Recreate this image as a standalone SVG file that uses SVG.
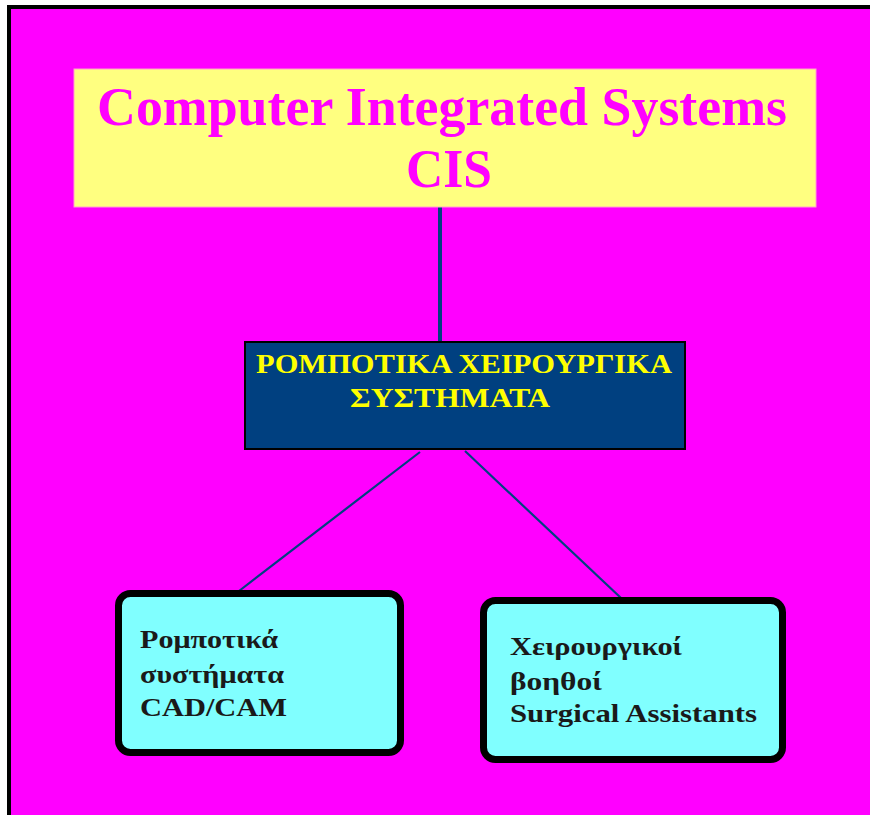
<svg xmlns="http://www.w3.org/2000/svg" width="870" height="815" viewBox="0 0 870 815">
  <style>
    .frame { fill: #ff00ff; stroke: #000000; stroke-width: 4; }
    .title-box { fill: #ffff80; stroke: #ff9fd0; stroke-width: 1; }
    .title { font-family: "Liberation Serif", "Times New Roman", serif; font-weight: bold; fill: #ff00ff; }
    .hub-box { fill: #004080; stroke: #000000; stroke-width: 2; }
    .hub-text { font-family: "Liberation Serif", "Times New Roman", serif; font-weight: bold; font-size: 28px; fill: #ffff00; }
    .leaf-box { fill: #80ffff; stroke: #000000; stroke-width: 7; }
    .leaf-text { font-family: "Liberation Serif", "Times New Roman", serif; font-weight: bold; font-size: 26px; fill: #1a1a1a; }
    .link { stroke: #004080; fill: none; stroke-linecap: butt; }
  </style>

  <!-- background panel -->
  <rect x="0" y="0" width="870" height="815" fill="#ffffff"/>
  <rect class="frame" x="9" y="7" width="880" height="830"/>

  <!-- connectors -->
  <g id="connectors">
    <line class="link" x1="440" y1="207" x2="440" y2="342" stroke-width="4"/>
    <line class="link" x1="420" y1="452" x2="239" y2="591" stroke-width="2.2"/>
    <line class="link" x1="465" y1="451" x2="621" y2="598" stroke-width="2.2"/>
  </g>

  <!-- top node -->
  <g id="node-cis">
    <rect class="title-box" x="74" y="69" width="742" height="138"/>
    <text class="title" x="97" y="125" font-size="55" textLength="690" lengthAdjust="spacingAndGlyphs">Computer Integrated Systems</text>
    <text class="title" x="406" y="187" font-size="55" textLength="86" lengthAdjust="spacingAndGlyphs">CIS</text>
  </g>

  <!-- middle node -->
  <g id="node-robotic-surgical">
    <rect class="hub-box" x="245" y="342" width="440" height="107"/>
    <text class="hub-text" x="256" y="373" textLength="416" lengthAdjust="spacingAndGlyphs">ΡΟΜΠΟΤΙΚΑ ΧΕΙΡΟΥΡΓΙΚΑ</text>
    <text class="hub-text" x="350" y="407" textLength="200" lengthAdjust="spacingAndGlyphs">ΣΥΣΤΗΜΑΤΑ</text>
  </g>

  <!-- left leaf -->
  <g id="node-cadcam">
    <rect class="leaf-box" x="118.5" y="593.5" width="282" height="159" rx="12" ry="12"/>
    <text class="leaf-text" x="140" y="648" textLength="138" lengthAdjust="spacingAndGlyphs">Ρομποτικά</text>
    <text class="leaf-text" x="140" y="683" textLength="144" lengthAdjust="spacingAndGlyphs">συστήματα</text>
    <text class="leaf-text" x="140" y="716" textLength="147" lengthAdjust="spacingAndGlyphs">CAD/CAM</text>
  </g>

  <!-- right leaf -->
  <g id="node-assistants">
    <rect class="leaf-box" x="483.5" y="600.5" width="299" height="159" rx="12" ry="12"/>
    <text class="leaf-text" x="510" y="655" textLength="172" lengthAdjust="spacingAndGlyphs">Χειρουργικοί</text>
    <text class="leaf-text" x="510" y="690" textLength="92" lengthAdjust="spacingAndGlyphs">βοηθοί</text>
    <text class="leaf-text" x="510" y="722" textLength="247" lengthAdjust="spacingAndGlyphs">Surgical Assistants</text>
  </g>
</svg>
